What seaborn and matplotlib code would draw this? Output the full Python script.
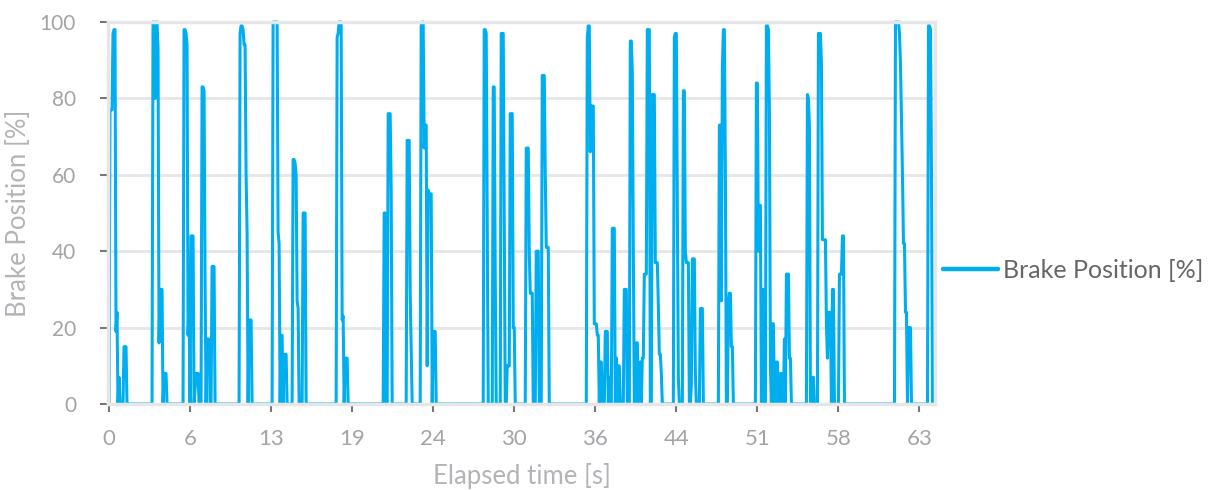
import numpy as np
import pandas as pd
import matplotlib
matplotlib.use("Agg")
import matplotlib.pyplot as plt
import seaborn as sns
from matplotlib.lines import Line2D

# ---- data (category-style x axis: one sample per position) ----
tick_labels = ["0", "6", "13", "19", "24", "30", "36", "44", "51", "58", "63"]
points_per_label = 81
n_points = 826

# braking events: start sample and consecutive brake positions [%]; 0 elsewhere
spike_starts = [1, 15, 44, 75, 93, 131, 164, 184, 194, 228, 275, 279, 298, 312,
                375, 384, 392, 417, 427, 433, 478, 496, 515, 521, 565, 610, 647,
                698, 709, 786, 819]
spike_values = [
    [77, 77, 77, 97, 98, 98, 19, 24, 0, 7],
    [15, 15, 15],
    [100, 100, 80, 100, 100, 93, 16, 30, 30, 30, 0, 8, 8, 8],
    [98, 98, 97, 94, 18, 26, 0, 44, 44, 44, 0, 4, 8, 8, 8],
    [83, 83, 82, 33, 0, 17, 17, 17, 0, 0, 36, 36, 36],
    [97, 99, 99, 98, 94, 94, 60, 45, 0, 22, 22, 22],
    [100, 100, 100, 100, 100, 45, 42, 0, 18, 18, 0, 13, 13, 13],
    [64, 64, 63, 60, 27, 25],
    [50, 50, 50],
    [96, 97, 100, 100, 100, 22, 23, 0, 12, 12, 12],
    [50, 50],
    [76, 76, 76, 56],
    [69, 69, 69, 29, 15],
    [99, 100, 100, 67, 73, 73, 10, 56, 55, 55, 55, 0, 19, 19, 19],
    [98, 98, 97, 50],
    [83, 83, 34],
    [97, 97, 97, 51, 0, 0, 10, 10, 10, 76, 76, 76, 20, 20],
    [67, 67, 67, 40, 29, 29, 29],
    [40, 40, 40],
    [86, 86, 86, 60, 41, 41, 41],
    [96, 99, 99, 66, 78, 78, 78, 21, 21, 21, 18, 18, 0, 11, 11],
    [19, 19, 19, 0, 7, 0, 0, 46, 46, 46, 0, 12, 0, 10, 10],
    [30, 30, 30],
    [95, 95, 87, 40, 0, 0, 16, 16, 0, 0, 11, 0, 12, 12, 34, 34, 34, 98, 98, 98,
     0, 0, 81, 81, 81, 37, 37, 37, 26, 13, 13, 8],
    [96, 97, 97, 50, 7, 0, 0, 0, 0, 82, 82, 40, 37, 37, 37, 0, 0, 5, 38, 38, 38,
     8, 0, 0, 0, 0, 25, 25, 25],
    [73, 73, 27, 88, 98, 98, 60, 0, 0, 26, 29, 29, 15, 15],
    [84, 84, 40, 52, 52, 0, 30, 30, 0, 0, 99, 99, 98, 77, 10, 0, 21, 21, 0, 0,
     11, 11, 0, 0, 8, 8, 0, 0, 17, 0, 34, 34, 34, 12, 12],
    [81, 80, 73, 0, 0, 7, 7],
    [97, 97, 97, 89, 43, 43, 43, 43, 21, 12, 24, 24, 24, 0, 30, 30, 0, 0, 0, 0,
     0, 34, 34, 34, 44, 44],
    [100, 100, 100, 100, 97, 89, 75, 60, 42, 42, 24, 24, 0, 20, 20, 20],
    [99, 99, 98, 60],
]

series_name = "Brake Position [%]"
x_title = "Elapsed time [s]"
y_title = "Brake Position [%]"

brake = np.zeros(n_points)
for s, vals in zip(spike_starts, spike_values):
    brake[s:s + len(vals)] = vals
df = pd.DataFrame({"sample": np.arange(n_points), series_name: brake})

# ---- style ----
sns.set_theme(style="white")
plt.rcParams["font.family"] = ["Lato", "DejaVu Sans"]

W, H = 1216, 490
fig = plt.figure(figsize=(W / 100, H / 100), dpi=100)
left, right, top, bottom = 108, 935, 22, 404
ax = fig.add_axes([left / W, 1 - bottom / H, (right - left) / W, (bottom - top) / H])

line_color = "#00AEEF"
sns.lineplot(data=df, x="sample", y=series_name, ax=ax, color=line_color,
             linewidth=2.2, legend=False)
for ln in ax.lines:
    ln.set_clip_on(False)

ax.set_xlim(-1, 825.5)
ax.set_ylim(0, 100)
ax.set_yticks([0, 20, 40, 60, 80, 100])
ax.set_xticks([i * points_per_label for i in range(len(tick_labels))])
ax.set_xticklabels(tick_labels)

grid_c = "#e6e6e6"
ax.yaxis.grid(True, color=grid_c, linewidth=2)
ax.xaxis.grid(False)
ax.set_axisbelow(True)
for sp in ax.spines.values():
    sp.set_color(grid_c)
    sp.set_linewidth(2.5)
    sp.set_visible(True)

tick_c = "#a4a4a8"
ax.tick_params(axis="y", which="major", left=True, length=6, width=1.5,
               color="#777777", pad=17, labelsize=15, labelcolor=tick_c)
ax.tick_params(axis="x", which="major", bottom=True, length=6, width=1.5,
               color="#777777", pad=12, labelsize=16, labelcolor=tick_c)

ax.set_xlabel(x_title, fontsize=18.5, color="#b4b4b8", labelpad=10)
ax.set_ylabel(y_title, fontsize=18.5, color="#b4b4b8", labelpad=6)

handle = Line2D([0], [0], color=line_color, linewidth=3.2, solid_capstyle="round")
fig.legend([handle], [series_name], loc="center left",
           bbox_to_anchor=(943 / W, 1 - 270 / H), bbox_transform=fig.transFigure,
           frameon=False, fontsize=18, handlelength=2.2, handletextpad=0.2,
           borderpad=0, borderaxespad=0, labelcolor="#666666")

fig.savefig("out.png", dpi=100)
